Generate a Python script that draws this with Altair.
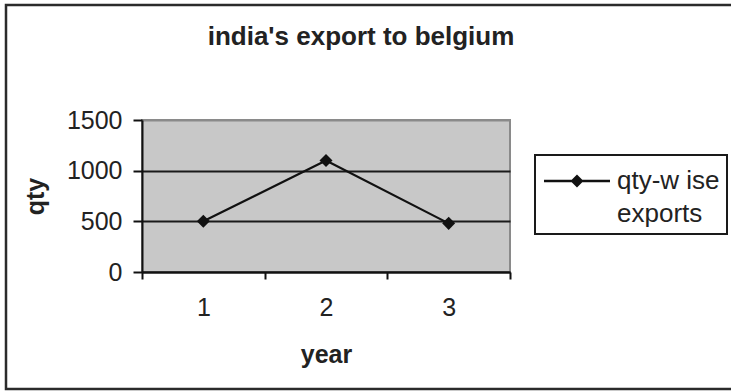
import altair as alt
import pandas as pd

# India's exports to Belgium, quantity per year
years = ["1", "2", "3"]
qty = [500, 1100, 480]
series_name = ["qty-w ise exports"] * len(years)

df = pd.DataFrame({"year": years, "qty": qty, "series": series_name})

FONT = "Liberation Sans"

x_enc = alt.X(
    "year:O",
    scale=alt.Scale(type="band", paddingInner=0, paddingOuter=0),
    axis=alt.Axis(
        title="year",
        labelAngle=0,
        tickBand="extent",
        tickSize=7,
        labelPadding=16,
        titlePadding=22,
        grid=False,
    ),
)
y_enc = alt.Y(
    "qty:Q",
    scale=alt.Scale(domain=[0, 1500], nice=False),
    axis=alt.Axis(
        title="qty",
        values=[0, 500, 1000, 1500],
        format="d",
        tickSize=9,
        labelPadding=11,
        titlePadding=18,
        grid=True,
        gridColor=alt.condition(
            alt.datum.value == 1500, alt.value("#8a8a8a"), alt.value("#1a1a1a")
        ),
    ),
)

# legend symbol: a short line with a diamond on it (drawn wider than the
# symbol cell, the label offset makes room for it)
legend_symbol = (
    "M-0.895,-0.06 L2.579,-0.06 L2.579,0.06 L-0.895,0.06 Z "
    "M0.842,-0.342 L1.184,0 L0.842,0.342 L0.5,0 Z"
)

line = alt.Chart(df).mark_line(strokeWidth=2.2).encode(
    x=x_enc,
    y=y_enc,
    color=alt.Color(
        "series:N",
        scale=alt.Scale(range=["#111111"]),
        legend=alt.Legend(
            title=None,
            orient="none",
            legendX=393,
            legendY=35,
            symbolType=legend_symbol,
            symbolSize=1444,
            symbolFillColor="#111111",
            symbolStrokeWidth=0,
            labelExpr="['qty-w ise', 'exports']",
            labelOffset=37,
            labelFontSize=26,
            labelFont=FONT,
            labelColor="#222222",
            labelLimit=300,
            padding=7,
            strokeColor="#1a1a1a",
            cornerRadius=0,
        ),
    ),
)

points = alt.Chart(df).mark_point(
    shape="diamond", filled=True, size=170, color="#111111", opacity=1
).encode(x=x_enc, y=y_enc)

# outer frame around the whole figure (its right side runs past the page)
frame = alt.Chart(pd.DataFrame({"f": [0]})).mark_rect(
    filled=False, stroke="#2b2b2b", strokeWidth=2.5
).encode(
    x=alt.value(-136), x2=alt.value(660), y=alt.value(-115), y2=alt.value(269)
)

chart = (
    alt.layer(line, points, frame)
    .properties(
        width=368,
        height=152,
        title=alt.TitleParams(
            "india's export to belgium",
            anchor="middle",
            frame="group",
            baseline="top",
            dx=35,
            dy=46,
            offset=0,
            fontSize=26,
            fontWeight="bold",
            font=FONT,
            color="#222222",
        ),
        autosize=alt.AutoSizeParams(type="none"),
        padding={"left": 142, "top": 120, "right": 221, "bottom": 120},
        background="white",
    )
    .configure(style={"guide-label": {"lineHeight": 33}})
    .configure_view(fill="#c8c8c8", stroke="#8a8a8a", strokeWidth=2)
    .configure_legend(strokeWidth=2)
    .configure_axis(
        domainColor="#111111",
        domainWidth=2,
        tickColor="#111111",
        tickWidth=2,
        gridWidth=2,
        labelFont=FONT,
        labelFontSize=25,
        labelColor="#222222",
        titleFont=FONT,
        titleFontSize=25,
        titleFontWeight="bold",
        titleColor="#222222",
    )
)

chart.save("out.html", embed_options={"renderer": "svg", "actions": False})
